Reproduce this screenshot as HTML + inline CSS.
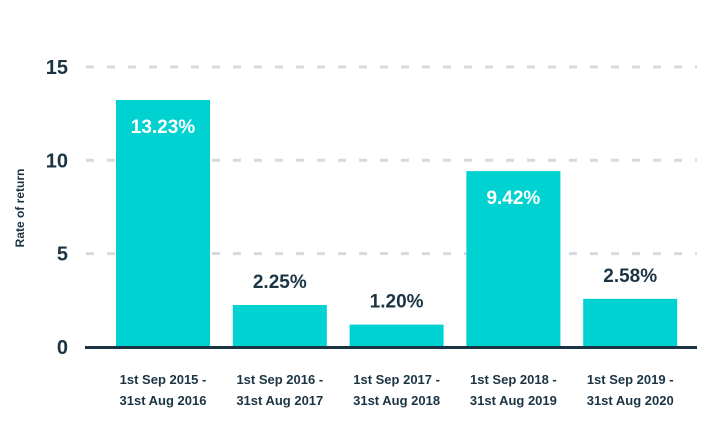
<!DOCTYPE html>
<html><head><meta charset="utf-8"><style>
body{margin:0;background:#fff;}
svg{display:block;font-family:"Liberation Sans",sans-serif;}
</style></head><body>
<svg id="chart" width="726" height="448">
<text transform="translate(24,208) rotate(-90)" text-anchor="middle" font-size="12" font-weight="bold" fill="#1b3444">Rate of return</text>
<g id="grid"></g><g id="bars"></g>
<line x1="85" x2="697" y1="347.5" y2="347.5" stroke="#1b3444" stroke-width="3"/>
</svg>
<script>
const categories=[["1st Sep 2015 -","31st Aug 2016"],["1st Sep 2016 -","31st Aug 2017"],["1st Sep 2017 -","31st Aug 2018"],["1st Sep 2018 -","31st Aug 2019"],["1st Sep 2019 -","31st Aug 2020"]];
const values=[13.23,2.25,1.20,9.42,2.58];
const valueLabels=["13.23%","2.25%","1.20%","9.42%","2.58%"];
const yTicks=[0,5,10,15];
const ns="http://www.w3.org/2000/svg";
const y0=347,pxPerUnit=18.67;
function yScale(v){return y0-v*pxPerUnit;}
function xScale(i){return 116+i*116.8;}
const bw=94;
function mk(tag,attrs,parent){const e=document.createElementNS(ns,tag);for(const k in attrs)e.setAttribute(k,attrs[k]);parent.appendChild(e);return e;}
const grid=document.getElementById('grid'),bars=document.getElementById('bars');
yTicks.forEach(t=>{
  const y=yScale(t);
  if(t>0){const l=mk('line',{x1:86,x2:697,y1:y,y2:y,stroke:'#d5dadd','stroke-width':3,'stroke-dasharray':'8 13'},grid);
  
  }
  const tx=mk('text',{x:68,y:y+7,'text-anchor':'end','font-size':20,'font-weight':'bold',fill:'#1b3444'},grid);
  tx.textContent=t;
  
  
});
values.forEach((v,i)=>{
  const x=xScale(i),y=yScale(v);
  const r=mk('rect',{x:x,y:y,width:bw,height:y0-y,fill:'#00d1d1'},bars);
  
  
  const inside=v>5;
  const t=mk('text',{x:x+bw/2,y:inside?y+33:y-17,'text-anchor':'middle','font-size':19,'font-weight':'bold',fill:inside?'#fff':'#1b3444'},bars);
  t.textContent=valueLabels[i];
  
  
  categories[i].forEach((line,j)=>{
    const c=mk('text',{x:x+bw/2,y:384+j*21,'text-anchor':'middle','font-size':13,'font-weight':'bold',fill:'#1b3444'},bars);
    c.textContent=line;
    
    
  });
});
</script>
</body></html>
